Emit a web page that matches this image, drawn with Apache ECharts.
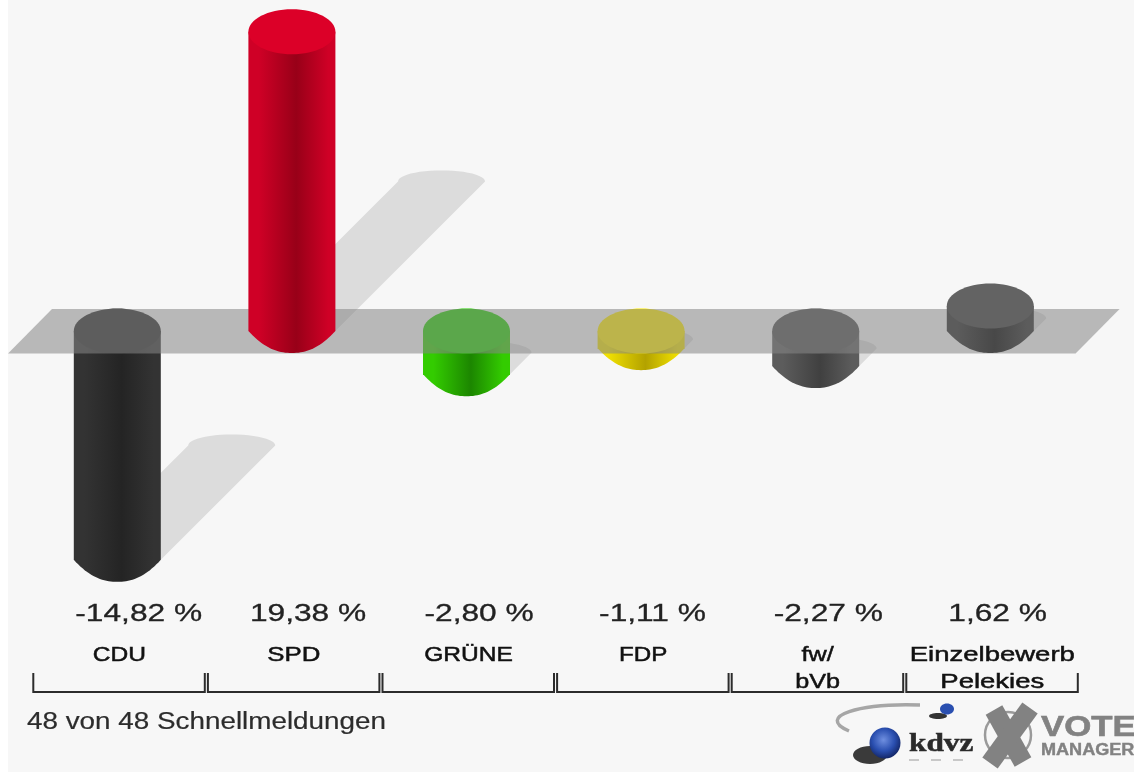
<!DOCTYPE html>
<html><head><meta charset="utf-8">
<style>html,body{margin:0;padding:0;background:#fff}#main{width:1134px;height:772px;filter:blur(0.7px)}</style>
<script src="https://cdn.jsdelivr.net/npm/echarts@6/dist/echarts.min.js"></script>
</head><body><div id="main"></div>
<script>
const parties = ['CDU','SPD','GRÜNE','FDP','fw/\nbVb','Einzelbewerb\nPelekies'];
const values = [-14.82,19.38,-2.80,-1.11,-2.27,1.62];
const valueLabels = ['-14,82 %','19,38 %','-2,80 %','-1,11 %','-2,27 %','1,62 %'];
const nameStretch = [1.17,1.23,1.17,1.15,1.2,1.31];
const capColors = ['#2a2a2a','#dc0028','#26cf00','#ffee00','#505050','#636363'];
const edgeColors = ['#333333','#cf0026','#33cc00','#f0e000','#5c5c5c','#5c5c5c'];
const coreColors = ['#242424','#980018','#1c8600','#b3a200','#404040','#484848'];
const footerText = '48 von 48 Schnellmeldungen';

const RX = 43.5, RY = 22, HALF_BAND = 87.3;
const FONT = '"Liberation Sans", Arial, sans-serif';

function arc(cx, cy, rx, ry, from, to, n) {
  const pts = [];
  for (let k = 0; k <= n; k++) {
    const t = from + (to - from) * k / n;
    pts.push([cx + rx * Math.cos(t), cy + ry * Math.sin(t)]);
  }
  return pts;
}
// underside of a cylinder: tapers from a visible corner at each side
function underside(cx, cy, rx, ry, n) {
  const pts = [];
  for (let k = 0; k <= n; k++) {
    const u = -1 + 2 * k / n;
    pts.push([cx + rx * u, cy + ry * (1 - Math.pow(Math.abs(u), 2.2))]);
  }
  return pts;
}
function shadowItem(params, api) {
  const i = api.value(0), v = api.value(1);
  const cx = api.coord([i, 0])[0], y0 = api.coord([i, 0])[1], yv = api.coord([i, v])[1];
  const h = Math.abs(y0 - yv), base = Math.max(y0, yv), off = h * 0.5;
  const pts = [[cx - RX, base]].concat(
    arc(cx + off, base - off, RX, RY * 0.5, Math.PI, 2 * Math.PI, 24),
    [[cx + RX, base]]);
  return {type: 'polygon', shape: {points: pts}, style: {fill: '#dcdcdc'}};
}
function cylinderItem(params, api) {
  const i = api.value(0), v = api.value(1);
  const cx = api.coord([i, 0])[0], y0 = api.coord([i, 0])[1], yv = api.coord([i, v])[1];
  const top = Math.min(y0, yv), bottom = Math.max(y0, yv);
  const body = [[cx - RX, top]].concat(underside(cx, bottom, RX, RY, 40), [[cx + RX, top]]);
  return {type: 'group', children: [
    {type: 'polygon', shape: {points: body}, style: {fill: {type: 'linear', x: 0, y: 0, x2: 1, y2: 0, colorStops: [
      {offset: 0, color: edgeColors[i]}, {offset: 0.12, color: edgeColors[i]},
      {offset: 0.55, color: coreColors[i]}, {offset: 0.92, color: edgeColors[i]}, {offset: 1, color: edgeColors[i]}]}}},
    {type: 'ellipse', shape: {cx: cx, cy: top, rx: RX, ry: RY + 0.5}, style: {fill: capColors[i]}}
  ]};
}
function planeItem(params, api) {
  const a = api.coord([0, 0]), b = api.coord([5, 0]);
  const L = a[0] - HALF_BAND, R = b[0] + HALF_BAND;
  return {type: 'polygon', shape: {points: [
    [L - 22, a[1] + RY + 0.5], [L + 22, a[1] - RY], [R + 42, a[1] - RY], [R - 2, a[1] + RY + 0.5]
  ]}, style: {fill: 'rgba(135,135,135,0.556)'}};
}
function labelItem(params, api) {
  const i = api.value(0);
  const cx = api.coord([i, 0])[0];
  const kids = [];
  kids.push({type: 'text', x: cx - 42, y: 614, scaleX: 1.32,
    style: {text: valueLabels[i], font: '24px ' + FONT, fill: '#222', stroke: '#222', lineWidth: 0.3, align: 'left', verticalAlign: 'middle'}});
  parties[i].split('\n').forEach(function (line, k) {
    kids.push({type: 'text', x: cx + 2, y: 655 + 27 * k, scaleX: nameStretch[i],
      style: {text: line, font: '21px ' + FONT, fill: '#111', stroke: '#111', lineWidth: 0.5, align: 'center', verticalAlign: 'middle'}});
  });
  const l = cx - 84, r = cx + 87.5;
  kids.push({type: 'polyline', shape: {points: [[l, 673], [l, 692], [r, 692], [r, 673]]},
    style: {stroke: '#2c2c2c', lineWidth: 2, fill: null}});
  return {type: 'group', children: kids};
}
const rows = values.map((v, i) => [i, v]);
const chart = echarts.init(document.getElementById('main'), null, {renderer: 'canvas'});
chart.setOption({
  animation: false,
  backgroundColor: '#ffffff',
  grid: {left: 30, width: 1047.6, top: 22.2, height: 555.84},
  xAxis: {type: 'category', data: parties, show: false},
  yAxis: {type: 'value', min: -16, max: 20, show: false},
  tooltip: {show: false},
  series: [
    {type: 'custom', z: 2, renderItem: shadowItem, data: rows, encode: {x: 0, y: 1}, silent: true},
    {type: 'custom', z: 3, renderItem: cylinderItem, data: rows.filter(r => r[1] < 0), encode: {x: 0, y: 1}, silent: true},
    {type: 'custom', z: 4, renderItem: planeItem, data: [[0, 0]], encode: {x: 0, y: 1}, silent: true},
    {type: 'custom', z: 5, renderItem: cylinderItem, data: rows.filter(r => r[1] > 0), encode: {x: 0, y: 1}, silent: true},
    {type: 'custom', z: 6, renderItem: labelItem, data: rows, encode: {x: 0, y: 1}, silent: true}
  ],
  graphic: {elements: [
    {type: 'rect', z: -10, shape: {x: 8, y: 0, width: 1126, height: 772}, style: {fill: '#f7f7f7'}},
    {type: 'text', x: 27, y: 723, scaleX: 1.21, style: {text: footerText, font: '23px ' + FONT, fill: '#2c2c2c', stroke: '#2c2c2c', lineWidth: 0.2, align: 'left', verticalAlign: 'middle'}},
    // kdvz logo
    {type: 'bezierCurve', shape: {x1: 920, y1: 705, x2: 849, y2: 731, cpx1: 860, cpy1: 703, cpx2: 815, cpy2: 716}, style: {stroke: '#a6a6a6', lineWidth: 3.5, fill: null}},
    {type: 'ellipse', shape: {cx: 870, cy: 755, rx: 17, ry: 9}, style: {fill: '#3a3a3a'}},
    {type: 'circle', shape: {cx: 885, cy: 743, r: 15.5}, style: {fill: {type: 'radial', x: 0.45, y: 0.4, r: 0.6, colorStops: [{offset: 0, color: '#6f8fe0'}, {offset: 0.6, color: '#2a4fb0'}, {offset: 1, color: '#14286a'}]}}},
    {type: 'ellipse', shape: {cx: 938, cy: 716, rx: 9, ry: 3}, style: {fill: '#333'}},
    {type: 'ellipse', shape: {cx: 947, cy: 709, rx: 7, ry: 5.5}, style: {fill: '#2a4fb0'}},
    {type: 'text', x: 909, y: 745, scaleX: 1.25, style: {text: 'kdvz', font: 'bold 25px "Liberation Serif", serif', fill: '#2a2a2a', stroke: '#2a2a2a', lineWidth: 0.5, align: 'left', verticalAlign: 'middle'}},
    {type: 'line', shape: {x1: 909, y1: 760, x2: 966, y2: 760}, style: {stroke: '#c8c8c8', lineWidth: 2, lineDash: [10, 12]}},
    // Vote Manager logo
    {type: 'circle', shape: {cx: 1008, cy: 735, r: 23}, style: {stroke: '#9a9a9a', lineWidth: 2.5, fill: null}},
    {type: 'line', shape: {x1: 994, y1: 710, x2: 1023, y2: 762}, style: {stroke: '#828282', lineWidth: 19}},
    {type: 'line', shape: {x1: 1030, y1: 708, x2: 990, y2: 763}, style: {stroke: '#828282', lineWidth: 19}},
    {type: 'text', x: 1041, y: 728, scaleX: 1.2, style: {text: 'VOTE', font: 'bold 29px ' + FONT, fill: '#828282', stroke: '#828282', lineWidth: 0.6, align: 'left', verticalAlign: 'middle'}},
    {type: 'text', x: 1041, y: 751, scaleX: 1.13, style: {text: 'MANAGER', font: 'bold 16px ' + FONT, fill: '#828282', stroke: '#828282', lineWidth: 0.4, align: 'left', verticalAlign: 'middle'}}
  ]}
});
</script></body></html>
